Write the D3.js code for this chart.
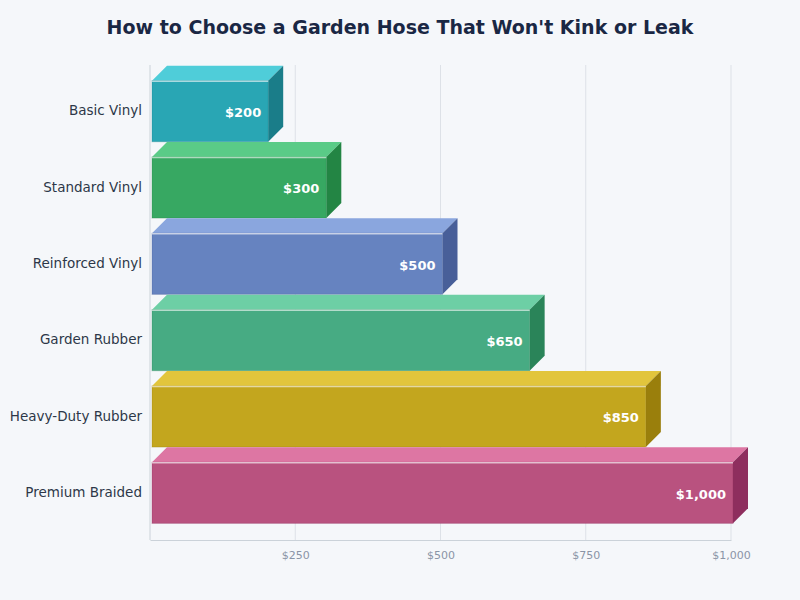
<!DOCTYPE html>
<html><head><meta charset="utf-8">
<script src="https://cdn.jsdelivr.net/npm/d3@7"></script>
<style>
html,body{margin:0;padding:0;background:#f5f7fa;}
svg{display:block;font-family:"DejaVu Sans",sans-serif;}
</style></head>
<body><svg id="c" width="800" height="600"></svg>
<script>
const categories = ["Basic Vinyl","Standard Vinyl","Reinforced Vinyl","Garden Rubber","Heavy-Duty Rubber","Premium Braided"];
const values = [200,300,500,650,850,1000];
const tickValues = [250,500,750,1000];
const frontColors = ["#29a6b4","#37a862","#6683c0","#47ab83","#c3a61e","#b9527f"];
const topColors   = ["#4fcdd9","#5acb87","#8aa6de","#6dcfa5","#e2c53c","#dd76a3"];
const sideColors  = ["#1a7d89","#238544","#485f99","#2a8459","#9a7f0c","#8e2e5e"];

const svg = d3.select("#c");
svg.append("rect").attr("width",800).attr("height",600).attr("fill","#f5f7fa");

const x = d3.scaleLinear().domain([0,1000]).range([150,731]);
const y = d3.scaleBand().domain(categories).range([73,531]).paddingInner(0.2).paddingOuter(0.1);
const depth = 15;
const plotTop = 65, plotBottom = 540;

svg.append("text").attr("x",400).attr("y",34).attr("text-anchor","middle")
  .attr("font-size",19).attr("font-weight","bold").attr("fill","#1a2744")
  .text("How to Choose a Garden Hose That Won't Kink or Leak");

// grid
svg.append("g").selectAll("line").data(tickValues).join("line")
  .attr("x1",d=>x(d)).attr("x2",d=>x(d)).attr("y1",plotTop).attr("y2",plotBottom)
  .attr("stroke","#dde1e7").attr("stroke-width",1);

// axes
const xAxis = d3.axisBottom(x).tickValues(tickValues).tickSize(0).tickPadding(11)
  .tickFormat(d=>"$"+d3.format(",")(d));
const gx = svg.append("g").attr("transform",`translate(0,${plotBottom})`).call(xAxis);
gx.select(".domain").attr("stroke","#cbd2d9");
gx.selectAll("text").attr("font-size",11).attr("fill","#8a94a6").attr("font-family","DejaVu Sans, sans-serif");

const yAxis = d3.axisLeft(y).tickSize(0).tickPadding(8);
const gy = svg.append("g").attr("transform",`translate(150,0)`).call(yAxis);
gy.select(".domain").attr("stroke","#cbd2d9").attr("d",`M0,${plotTop}V${plotBottom}`);
gy.selectAll("text").attr("font-size",13.5).attr("fill","#2d3748").attr("font-family","DejaVu Sans, sans-serif");

// bars
const bars = svg.append("g").selectAll("g").data(categories).join("g");
bars.each(function(c,i){
  const g = d3.select(this);
  const x0 = x(0)+2, x1 = x0 + (x(values[i]) - x(0));
  const y0 = y(c), h = y.bandwidth();
  g.append("path").attr("d",`M${x0},${y0}L${x0+depth},${y0-depth}L${x1+depth},${y0-depth}L${x1},${y0}Z`)
    .attr("fill",topColors[i]);
  g.append("path").attr("d",`M${x1},${y0}L${x1+depth},${y0-depth}L${x1+depth},${y0+h-depth}L${x1},${y0+h}Z`)
    .attr("fill",sideColors[i]);
  g.append("rect").attr("x",x0).attr("y",y0).attr("width",x1-x0).attr("height",h)
    .attr("fill",frontColors[i]).attr("stroke",sideColors[i]).attr("stroke-opacity",0.35).attr("stroke-width",1);
  g.append("line").attr("x1",x0).attr("x2",x1).attr("y1",y0+0.5).attr("y2",y0+0.5)
    .attr("stroke","#ffffff").attr("stroke-opacity",0.6).attr("stroke-width",1.5);
  g.append("text").attr("x",x1-7).attr("y",y0+h/2+1).attr("dy","0.36em").attr("text-anchor","end")
    .attr("font-size",13).attr("font-weight","bold").attr("fill","#ffffff")
    .text("$"+d3.format(",")(values[i]));
});
</script></body></html>
